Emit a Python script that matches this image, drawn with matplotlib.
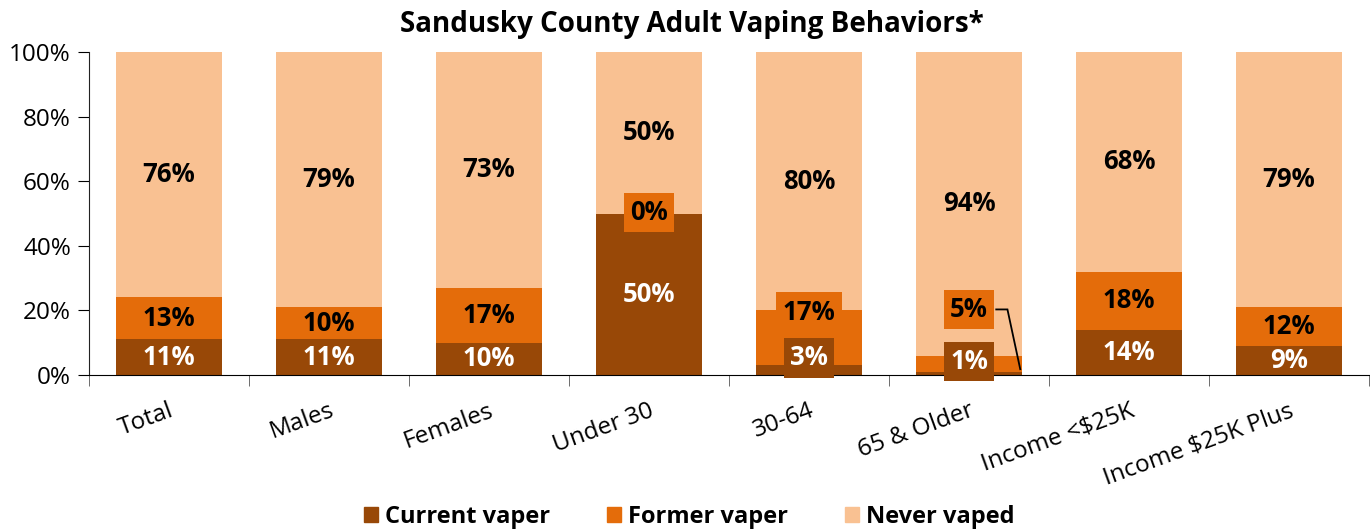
import numpy as np
import matplotlib.pyplot as plt
from matplotlib.patches import Patch

plt.rcParams['font.family'] = ['Open Sans', 'DejaVu Sans']

groups = ["Total", "Males", "Females", "Under 30", "30-64", "65 & Older",
          "Income <$25K", "Income $25K Plus"]
current = [11, 11, 10, 50, 3, 1, 14, 9]
former = [13, 10, 17, 0, 17, 5, 18, 12]
never = [76, 79, 73, 50, 80, 94, 68, 79]

c_cur = '#984807'
c_for = '#E46C0A'
c_nev = '#F9C192'

fig = plt.figure(figsize=(13.7, 5.31), dpi=100)
ax = fig.add_axes([0.065, 0.2938, 0.9343, 0.6082])

x = np.arange(len(groups))
cur = np.array(current)
fo = np.array(former)
nv = np.array(never)
w = 0.66
ax.bar(x, cur, w, color=c_cur)
ax.bar(x, fo, w, bottom=cur, color=c_for)
ax.bar(x, nv, w, bottom=cur + fo, color=c_nev)

# label positions: segment centre unless the segment is too thin
y_cur = cur / 2.0
y_for = cur + fo / 2.0
y_nev = cur + fo + nv / 2.0
y_cur[4] = 5.3
y_cur[5] = 4.2
y_for[3] = 50.3
y_for[4] = 19.5
y_for[5] = 20.3

fs = 18.5
for i in range(len(groups)):
    if i in (4, 5):
        ax.text(x[i], y_cur[i], f"{current[i]}%", ha='center', va='center',
                fontsize=fs, fontweight='bold', color='white',
                bbox=dict(boxstyle='square,pad=0.25', fc=c_cur, ec='none'))
    else:
        ax.text(x[i], y_cur[i], f"{current[i]}%", ha='center', va='center',
                fontsize=fs, fontweight='bold', color='white')
    if i in (3, 4, 5):
        ax.text(x[i], y_for[i], f"{former[i]}%", ha='center', va='center',
                fontsize=fs, fontweight='bold', color='black',
                bbox=dict(boxstyle='square,pad=0.25', fc=c_for, ec='none'))
    else:
        ax.text(x[i], y_for[i], f"{former[i]}%", ha='center', va='center',
                fontsize=fs, fontweight='bold', color='black')
    ax.text(x[i], y_nev[i], f"{never[i]}%", ha='center', va='center',
            fontsize=fs, fontweight='bold', color='black')

# leader line for 65 & Older former label
ax.plot([5.17, 5.24, 5.32], [20.3, 20.3, 1.8], color='black', lw=1.3,
        solid_joinstyle='miter')

ax.set_xlim(-0.5, 7.5)
ax.set_ylim(0, 100)
ax.set_yticks(np.arange(0, 101, 20))
ax.set_yticklabels([f"{v}%" for v in range(0, 101, 20)], fontsize=17.5)
ax.set_xticks(x)
ax.set_xticklabels(groups, fontsize=17.5, rotation=20, ha='right',
                   rotation_mode='anchor')
ax.tick_params(axis='x', which='major', length=0, pad=17)
ax.set_xticks(np.arange(-0.5, 8, 1), minor=True)
ax.tick_params(axis='x', which='minor', length=8, direction='out', color='#555555')
ax.tick_params(axis='y', length=8, direction='out', pad=5)

for s in ['top', 'right']:
    ax.spines[s].set_visible(False)
ax.spines['left'].set_color('#222222')
ax.spines['bottom'].set_color('black')

fig.text(0.505, 0.953, "Sandusky County Adult Vaping Behaviors*", fontsize=20,
         fontweight='bold', ha='center', va='center')

handles = [Patch(color=c_cur, label='Current vaper'),
           Patch(color=c_for, label='Former vaper'),
           Patch(color=c_nev, label='Never vaped')]
leg = fig.legend(handles=handles, loc='center', bbox_to_anchor=(0.503, 0.027),
                 ncol=3, frameon=False, handlelength=0.6, handleheight=0.6,
                 handletextpad=0.3, columnspacing=2.4,
                 prop={'weight': 'bold', 'size': 17})

fig.savefig('out.png', dpi=100)
